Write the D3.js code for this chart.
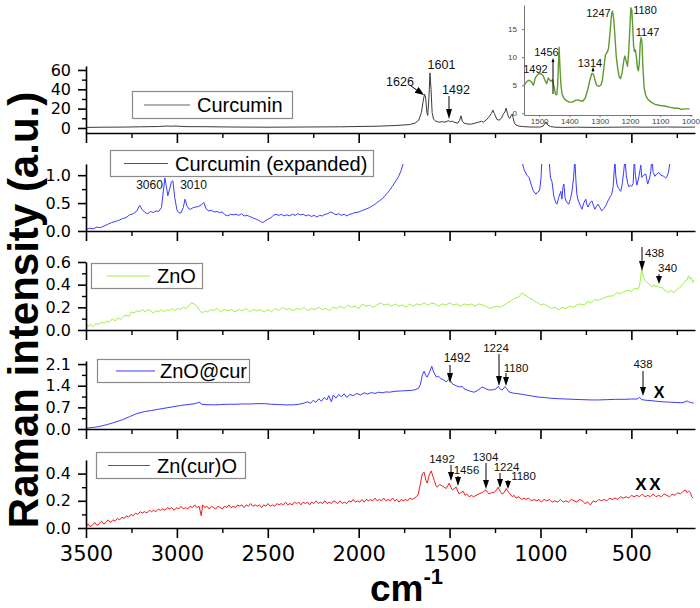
<!DOCTYPE html>
<html><head><meta charset="utf-8">
<script src="https://cdn.jsdelivr.net/npm/d3@7"></script>
<style>body{margin:0;background:#fff}svg{display:block}</style>
</head><body>
<svg id="c" width="700" height="608"></svg>
<script>
// ---------------- DATA ----------------
const xTickValues = [3500,3000,2500,2000,1500,1000,500];
const xMinorValues = [3250,2750,2250,1750,1250,750,250];
const seriesNames = ["Curcumin","Curcumin (expanded)","ZnO","ZnO@cur","Zn(cur)O"];

const curcumin = [[3500,0.6],[3400,0.8],[3300,0.9],[3200,1.2],[3100,1.5],[3060,2.0],[3030,1.8],[3010,2.0],[2950,1.4],[2850,1.3],[2700,1.0],[2500,0.8],[2300,1.0],[2100,1.2],[1900,1.8],[1800,2.5],[1720,3.5],[1690,5],[1670,8],[1655,16],[1645,28],[1638,35],[1632,32],[1625,16],[1620,13],[1614,30],[1608,57],[1602,40],[1596,16],[1588,9],[1575,7],[1560,6],[1540,6.5],[1525,6],[1507,7.5],[1495,6.5],[1485,7],[1470,5.5],[1455,5],[1445,8],[1437,12.5],[1430,7],[1420,5],[1400,4],[1380,4],[1360,5],[1340,6],[1325,7],[1315,6],[1300,8],[1285,11],[1270,15],[1262,18.5],[1254,15],[1240,9],[1228,8],[1215,10],[1205,14],[1195,17],[1189,20.5],[1182,15],[1175,11],[1168,10],[1160,13.5],[1155,14.5],[1150,10],[1143,5],[1135,3],[1120,2],[1100,1.5],[1060,1],[1000,1],[985,2],[975,5],[968,6],[960,3],[945,1.5],[920,0.8],[880,0.6],[800,0.8],[700,0.6],[600,0.8],[500,1.0],[420,0.8],[300,1.0],[200,0.8],[150,1.0]];

const curcuminExpandedA = [[3500,.03],[3480,.05],[3460,.04],[3440,.07],[3420,.06],[3400,.09],[3380,.12],[3360,.15],[3340,.17],[3320,.19],[3300,.22],[3280,.24],[3260,.29],[3240,.31],[3220,.36],[3205,.46],[3190,.38],[3175,.33],[3160,.31],[3145,.35],[3130,.33],[3115,.36],[3100,.35],[3085,.42],[3075,.70],[3066,.95],[3058,.80],[3050,.63],[3040,.75],[3030,.88],[3022,.90],[3012,.60],[3000,.38],[2990,.33],[2978,.32],[2965,.42],[2955,.57],[2945,.45],[2935,.40],[2925,.39],[2910,.42],[2895,.43],[2880,.44],[2865,.47],[2852,.51],[2840,.40],[2825,.36],[2810,.37],[2795,.34],[2780,.35],[2765,.33],[2750,.34],[2735,.29],[2720,.27],[2705,.30],[2690,.29],[2675,.30],[2660,.28],[2645,.31],[2630,.27],[2615,.28],[2600,.26],[2585,.24],[2570,.22],[2555,.20],[2540,.17],[2528,.15],[2515,.18],[2500,.21],[2485,.23],[2470,.28],[2455,.30],[2440,.28],[2425,.30],[2410,.27],[2395,.29],[2380,.27],[2365,.30],[2350,.28],[2335,.31],[2320,.29],[2305,.30],[2290,.27],[2275,.29],[2260,.26],[2245,.28],[2230,.25],[2215,.28],[2200,.27],[2185,.30],[2170,.31],[2155,.34],[2140,.32],[2125,.29],[2110,.31],[2095,.28],[2080,.30],[2065,.27],[2050,.30],[2035,.31],[2020,.33],[2000,.34],[1985,.36],[1970,.38],[1955,.40],[1940,.42],[1925,.45],[1910,.48],[1895,.52],[1886,.54],[1870,.58],[1855,.63],[1840,.69],[1832,.72],[1815,.80],[1795,.90],[1780,.98],[1767,1.08],[1752,1.24]];
const curcuminExpandedB = [[1102,1.25],[1090,1.10],[1075,1.00],[1063,.96],[1050,.82],[1040,.72],[1025,.66],[1015,.70],[1005,.72],[997,.95],[992,1.3],[953,1.3],[945,.95],[937,.89],[926,.61],[915,.50],[909,.48],[900,.60],[888,.71],[882,.57],[876,.80],[871,.84],[865,.60],[860,.54],[852,.50],[844,.48],[835,.58],[827,.70],[818,.95],[811,1.3],[805,.90],[800,.66],[795,.58],[789,.52],[780,.45],[772,.39],[762,.50],[751,.57],[745,.48],[739,.43],[728,.50],[717,.54],[708,.45],[701,.39],[692,.44],[684,.48],[673,.42],[663,.36],[652,.40],[641,.45],[632,.52],[624,.57],[615,.62],[608,.66],[600,.80],[594,1.1],[591,1.3],[586,1.0],[580,.84],[570,.76],[558,.71],[550,.85],[542,1.07],[535,1.3],[528,1.0],[520,.85],[514,.79],[505,.82],[498,.80],[490,.85],[484,1.3],[478,1.0],[470,.82],[460,.95],[452,1.1],[448,1.18],[443,.96],[432,1.0],[421,1.02],[415,.92],[410,.84],[400,.95],[393,1.07],[388,1.3],[380,1.05],[371,.98],[360,1.02],[349,1.05],[338,1.0],[322,.98],[312,.95],[306,.96],[296,1.05],[284,1.3]];

const zno = [[3500,.07],[3490,.03],[3475,.05],[3460,.03],[3445,.06],[3430,.05],[3415,.07],[3400,.06],[3385,.08],[3370,.07],[3355,.10],[3340,.08],[3325,.11],[3310,.09],[3295,.12],[3280,.13],[3265,.12],[3250,.16],[3235,.15],[3220,.17],[3205,.16],[3190,.18],[3175,.16],[3160,.18],[3145,.17],[3130,.15],[3115,.17],[3100,.16],[3085,.18],[3070,.16],[3055,.18],[3040,.17],[3025,.19],[3010,.17],[2995,.19],[2980,.18],[2965,.20],[2950,.19],[2935,.21],[2920,.24],[2905,.23],[2890,.21],[2875,.17],[2860,.15],[2845,.17],[2830,.16],[2815,.18],[2800,.17],[2780,.19],[2760,.16],[2740,.18],[2720,.17],[2700,.18],[2680,.16],[2660,.18],[2640,.17],[2620,.19],[2600,.16],[2580,.18],[2560,.17],[2540,.18],[2520,.16],[2500,.18],[2480,.16],[2460,.19],[2440,.17],[2420,.20],[2400,.18],[2380,.19],[2360,.17],[2340,.19],[2320,.18],[2300,.20],[2280,.17],[2260,.19],[2240,.18],[2220,.20],[2200,.18],[2180,.19],[2160,.17],[2140,.20],[2120,.19],[2100,.21],[2080,.19],[2060,.22],[2040,.20],[2020,.21],[2000,.19],[1980,.23],[1960,.21],[1940,.22],[1920,.20],[1900,.22],[1880,.24],[1860,.22],[1840,.23],[1820,.21],[1800,.23],[1780,.21],[1760,.22],[1740,.20],[1720,.23],[1700,.21],[1680,.23],[1660,.22],[1640,.24],[1620,.22],[1600,.24],[1580,.23],[1560,.21],[1540,.23],[1520,.22],[1500,.24],[1480,.22],[1460,.23],[1440,.21],[1420,.23],[1400,.22],[1380,.23],[1360,.21],[1340,.23],[1320,.22],[1300,.21],[1280,.19],[1260,.20],[1240,.21],[1220,.20],[1200,.22],[1180,.24],[1160,.26],[1140,.28],[1120,.29],[1100,.33],[1090,.31],[1075,.30],[1060,.28],[1045,.27],[1030,.25],[1015,.24],[1000,.22],[980,.23],[960,.21],[940,.19],[920,.20],[900,.18],[880,.20],[860,.19],[840,.21],[820,.20],[800,.22],[780,.23],[760,.22],[740,.25],[720,.24],[700,.27],[680,.26],[660,.28],[640,.29],[620,.30],[600,.30],[580,.33],[560,.32],[540,.34],[520,.35],[500,.34],[480,.37],[465,.36],[455,.39],[443,.54],[435,.47],[425,.44],[415,.42],[405,.41],[395,.39],[385,.38],[375,.40],[365,.38],[355,.39],[345,.37],[335,.38],[325,.36],[315,.35],[305,.34],[295,.33],[285,.35],[275,.34],[265,.33],[255,.35],[245,.36],[235,.37],[225,.39],[215,.41],[205,.43],[195,.44],[185,.48],[178,.45],[170,.46],[162,.42],[155,.44]];

const znoCur = [[3500,.03],[3460,.05],[3420,.09],[3380,.15],[3340,.22],[3300,.30],[3260,.40],[3220,.50],[3180,.56],[3140,.60],[3100,.64],[3060,.68],[3020,.72],[2980,.76],[2940,.79],[2900,.82],[2875,.87],[2865,.80],[2840,.79],[2800,.78],[2760,.79],[2720,.80],[2680,.80],[2640,.81],[2600,.81],[2560,.82],[2520,.82],[2480,.80],[2440,.79],[2400,.78],[2360,.78],[2330,.80],[2300,.84],[2280,.88],[2265,.83],[2250,.93],[2235,.86],[2220,.98],[2205,.90],[2190,1.02],[2175,.94],[2165,1.08],[2150,.88],[2140,1.10],[2125,1.00],[2110,1.12],[2095,1.04],[2080,1.14],[2065,1.02],[2050,1.12],[2030,1.08],[2010,1.15],[1990,1.10],[1970,1.17],[1950,1.13],[1930,1.18],[1910,1.15],[1890,1.19],[1870,1.17],[1850,1.20],[1830,1.19],[1800,1.22],[1770,1.23],[1740,1.24],[1710,1.25],[1690,1.27],[1670,1.32],[1660,1.45],[1650,1.75],[1640,1.87],[1630,1.72],[1623,1.68],[1610,1.85],[1598,2.03],[1588,1.85],[1573,1.68],[1560,1.70],[1546,1.62],[1530,1.58],[1519,1.52],[1505,1.60],[1495,1.55],[1485,1.46],[1465,1.40],[1447,1.36],[1431,1.38],[1420,1.30],[1404,1.26],[1385,1.22],[1365,1.19],[1345,1.25],[1321,1.36],[1300,1.30],[1283,1.26],[1260,1.27],[1244,1.30],[1233,1.38],[1220,1.28],[1211,1.26],[1195,1.37],[1185,1.30],[1173,1.20],[1150,1.16],[1134,1.15],[1100,1.12],[1080,1.10],[1040,1.06],[1008,1.03],[980,1.02],[953,1.0],[900,.98],[860,.97],[820,.96],[772,.95],[720,.94],[679,.94],[630,.95],[586,.96],[540,.96],[498,.97],[470,.97],[455,1.02],[443,.95],[420,.93],[390,.92],[366,.90],[330,.88],[295,.87],[260,.86],[223,.85],[205,.88],[196,.91],[185,.88],[170,.85],[157,.84]];

const znCurO = [[3500,.01],[3490,.03],[3478,.01],[3465,.02],[3452,.04],[3440,.02],[3428,.03],[3415,.05],[3402,.03],[3390,.04],[3378,.06],[3365,.04],[3352,.06],[3340,.05],[3328,.07],[3315,.06],[3302,.08],[3290,.07],[3278,.09],[3265,.08],[3252,.10],[3240,.09],[3228,.11],[3215,.10],[3202,.12],[3190,.11],[3178,.12],[3165,.11],[3152,.13],[3140,.12],[3128,.13],[3115,.12],[3102,.14],[3090,.13],[3078,.14],[3065,.13],[3052,.15],[3040,.14],[3028,.15],[3015,.13],[3002,.15],[2990,.14],[2978,.16],[2965,.14],[2952,.15],[2940,.14],[2928,.16],[2915,.15],[2902,.17],[2890,.15],[2878,.16],[2866,.09],[2858,.17],[2846,.15],[2834,.16],[2822,.14],[2810,.16],[2798,.15],[2786,.14],[2774,.16],[2762,.15],[2750,.14],[2738,.16],[2726,.15],[2714,.17],[2702,.15],[2690,.16],[2678,.15],[2666,.17],[2654,.16],[2642,.17],[2630,.15],[2618,.17],[2606,.16],[2594,.18],[2582,.16],[2570,.17],[2558,.16],[2546,.17],[2534,.15],[2522,.17],[2510,.16],[2498,.18],[2486,.16],[2474,.17],[2462,.16],[2450,.18],[2438,.17],[2426,.18],[2414,.17],[2402,.19],[2390,.17],[2378,.18],[2366,.17],[2354,.19],[2342,.18],[2330,.19],[2318,.17],[2306,.19],[2294,.18],[2282,.19],[2270,.17],[2258,.19],[2246,.18],[2234,.20],[2222,.18],[2210,.19],[2198,.18],[2186,.20],[2174,.18],[2162,.19],[2150,.18],[2138,.20],[2126,.19],[2114,.18],[2102,.20],[2090,.18],[2078,.19],[2066,.18],[2054,.20],[2042,.19],[2030,.21],[2018,.19],[2006,.20],[1994,.19],[1982,.21],[1970,.19],[1958,.21],[1946,.20],[1934,.21],[1922,.20],[1910,.22],[1898,.20],[1886,.21],[1874,.20],[1862,.22],[1850,.20],[1838,.21],[1826,.20],[1814,.22],[1802,.20],[1790,.21],[1778,.19],[1766,.21],[1754,.20],[1742,.21],[1730,.20],[1718,.22],[1706,.21],[1694,.22],[1682,.23],[1672,.25],[1660,.33],[1650,.40],[1640,.41],[1630,.35],[1623,.33],[1612,.39],[1601,.42],[1592,.38],[1584,.35],[1575,.31],[1568,.30],[1555,.32],[1541,.31],[1530,.30],[1519,.29],[1510,.31],[1502,.33],[1493,.30],[1485,.28],[1475,.29],[1463,.30],[1455,.27],[1447,.25],[1438,.26],[1425,.27],[1415,.24],[1405,.25],[1393,.23],[1380,.24],[1368,.23],[1354,.24],[1340,.25],[1321,.26],[1310,.27],[1300,.28],[1290,.26],[1283,.25],[1270,.26],[1255,.26],[1242,.28],[1233,.30],[1222,.27],[1211,.25],[1200,.26],[1189,.29],[1180,.27],[1167,.25],[1155,.23],[1145,.24],[1134,.22],[1120,.23],[1105,.21],[1090,.22],[1080,.21],[1065,.22],[1050,.20],[1035,.21],[1020,.20],[1008,.21],[995,.19],[980,.21],[965,.20],[950,.21],[935,.19],[920,.20],[905,.19],[890,.21],[875,.19],[860,.20],[845,.19],[830,.21],[815,.20],[800,.19],[785,.21],[770,.20],[755,.18],[740,.19],[725,.17],[710,.20],[695,.19],[680,.21],[665,.20],[650,.21],[635,.20],[620,.22],[605,.21],[590,.22],[575,.21],[560,.23],[545,.22],[530,.23],[515,.22],[500,.24],[485,.23],[470,.24],[455,.23],[440,.25],[425,.23],[410,.24],[395,.23],[380,.25],[365,.23],[350,.24],[335,.23],[320,.25],[305,.24],[290,.23],[275,.25],[260,.24],[245,.26],[230,.25],[215,.27],[202,.28],[195,.26],[185,.27],[175,.26],[168,.23],[160,.22]];

const insetData = [[1550,5.0],[1540,5.7],[1533,5.9],[1525,5.6],[1519,5.0],[1512,6.4],[1503,7.0],[1495,7.1],[1487,6.7],[1480,5.8],[1475,5.3],[1470,6.3],[1466,6.0],[1461,5.7],[1456,6.0],[1451,4.8],[1446,3.4],[1442,3.3],[1439,4.8],[1436,9],[1434,11.8],[1431,8],[1428,5],[1424,3.4],[1418,2.7],[1411,2.3],[1400,2.0],[1390,2.0],[1380,2.3],[1372,2.4],[1363,2.2],[1355,2.2],[1347,2.8],[1340,4.1],[1333,5.8],[1326,7.1],[1320,6.9],[1315,5.8],[1310,5.0],[1303,4.8],[1296,5.0],[1291,5.9],[1286,8.2],[1281,10.4],[1275,10.9],[1271,11.5],[1266,14.3],[1261,17.5],[1258,18.2],[1254,17],[1250,14.1],[1245,10],[1240,7.8],[1235,6.4],[1231,6.2],[1226,7.2],[1220,9.5],[1217,10.2],[1212,9.2],[1208,8.4],[1204,11],[1200,15.5],[1197,18.8],[1194,18.5],[1191,15.5],[1188,12],[1185,11],[1182,11.3],[1179,10.2],[1175,8],[1172,7.6],[1169,9],[1166,12.5],[1163,13.5],[1160,12.5],[1157,8],[1153,4.5],[1148,3.2],[1141,2.5],[1130,2.0],[1117,1.6],[1100,1.4],[1085,1.3],[1070,1.1],[1052,0.9],[1040,0.9],[1030,0.7],[1020,0.8],[1003,0.8]];
const insetXTicks = [1500,1400,1300,1200,1100,1000];
const insetYTicks = [0,5,10,15];

// ---------------- DRAW ----------------
const svg = d3.select('#c');
const FONT = '"Liberation Sans", Arial, Helvetica, sans-serif';
const TFONT = '"DejaVu Sans", sans-serif';
const X0 = 86, X1 = 695;
const x = d3.scaleLinear().domain([3500,150]).range([X0,X1]);

const panels = [
  {series:[curcumin], color:'#3a3a3a', top:66, bottom:133, domain:[-5.2,64.1], ticks:[0,20,40,60], minor:[10,30,50], fmt:d3.format('d'),
   legend:{x:132,y:91,w:160,h:27,l1:144,l2:190,tx:197}, name:seriesNames[0], lw:1},
  {series:[curcuminExpandedA, curcuminExpandedB], color:'#3b3bff', top:164, bottom:231, domain:[0,1.2], ticks:[0,0.5,1.0], minor:[0.25,0.75], fmt:d3.format('.1f'),
   legend:{x:110,y:150,w:263,h:26,l1:124,l2:168,tx:175}, name:seriesNames[1], lw:1},
  {series:[zno], color:'#9def45', top:262, bottom:330, domain:[0,0.6], ticks:[0,0.2,0.4,0.6], minor:[0.1,0.3,0.5], fmt:d3.format('.1f'),
   legend:{x:91,y:263,w:111,h:25,l1:107,l2:150,tx:157}, name:seriesNames[2], lw:1},
  {series:[znoCur], color:'#3b3bff', top:361, bottom:429, domain:[0,2.2], ticks:[0,0.7,1.4,2.1], minor:[0.35,1.05,1.75], fmt:d3.format('.1f'),
   legend:{x:97,y:359,w:152,h:23,l1:116,l2:155,tx:160}, name:seriesNames[3], lw:1},
  {series:[znCurO], color:'#ee1c1c', top:460, bottom:528, domain:[0,0.5], ticks:[0,0.2,0.4], minor:[0.1,0.3], fmt:d3.format('.1f'),
   legend:{x:96,y:452,w:149,h:26,l1:108,l2:150,tx:157}, name:seriesNames[4], lw:1}
];

panels.forEach((p,i)=>{
  const y = d3.scaleLinear().domain(p.domain).range([p.bottom,p.top]);
  const g = svg.append('g');
  const cid = 'clip'+i;
  svg.append('clipPath').attr('id',cid).append('rect')
    .attr('x',X0).attr('y',p.top).attr('width',X1-X0).attr('height',p.bottom-p.top);
  const line = d3.line().x(d=>x(d[0])).y(d=>y(d[1]));
  p.series.forEach(s=>{
    g.append('path').datum(s).attr('d',line).attr('fill','none')
      .attr('stroke',p.color).attr('stroke-width',p.lw).attr('stroke-linejoin','round')
      .attr('clip-path',`url(#${cid})`);
  });
  // x axis
  const xa = g.append('g').attr('transform',`translate(0,${p.bottom})`)
    .call(d3.axisBottom(x).tickValues(xTickValues).tickSize(10).tickSizeOuter(0).tickFormat(i===4?d3.format('d'):''));
  xa.select('.domain').attr('stroke-width',1.6);
  xa.selectAll('.tick line').attr('stroke-width',1.6);
  xa.selectAll('text').attr('font-family',TFONT).attr('font-size',21).attr('fill','#000').attr('dy',0).attr('y',33);
  const xm = g.append('g').attr('transform',`translate(0,${p.bottom})`)
    .call(d3.axisBottom(x).tickValues(xMinorValues).tickSize(5).tickFormat(''));
  xm.select('.domain').remove();
  xm.selectAll('.tick line').attr('stroke-width',1.4);
  // y axis
  const ya = g.append('g').attr('transform',`translate(${X0},0)`)
    .call(d3.axisLeft(y).tickValues(p.ticks).tickSize(8).tickPadding(7).tickSizeOuter(0).tickFormat(p.fmt));
  ya.select('.domain').attr('stroke-width',1.6);
  ya.selectAll('.tick line').attr('stroke-width',1.6);
  ya.selectAll('text').attr('font-family',TFONT).attr('font-size',16).attr('fill','#000');
  const ym = g.append('g').attr('transform',`translate(${X0},0)`)
    .call(d3.axisLeft(y).tickValues(p.minor).tickSize(4).tickFormat(''));
  ym.select('.domain').remove();
  ym.selectAll('.tick line').attr('stroke-width',1.4);
  // legend
  const L = p.legend;
  g.append('rect').attr('x',L.x+0.5).attr('y',L.y+0.5).attr('width',L.w).attr('height',L.h)
    .attr('fill','#fff').attr('stroke','#8a8a8a').attr('stroke-width',1.2);
  const cy = L.y + L.h/2 + 0.5;
  g.append('line').attr('x1',L.l1).attr('x2',L.l2).attr('y1',cy).attr('y2',cy)
    .attr('stroke', i===0 ? '#666' : p.color).attr('stroke-width',1.2);
  g.append('text').attr('x',L.tx).attr('y',cy+7).attr('font-family',FONT).attr('font-size',20)
    .attr('fill','#000').text(p.name);
});

// ---------------- annotations ----------------
function label(t, xx, yy, size, anchor){
  svg.append('text').attr('x',xx).attr('y',yy).attr('font-family',FONT).attr('font-size',size)
    .attr('text-anchor',anchor||'middle').attr('fill','#111').text(t);
}
function arrow(x1,y1,x2,y2,hl,hw,color,sw){
  color = color||'#000';
  const a = Math.atan2(y2-y1,x2-x1);
  const bx = x2 - hl*Math.cos(a), by = y2 - hl*Math.sin(a);
  const px = -Math.sin(a)*hw/2, py = Math.cos(a)*hw/2;
  if (Math.hypot(bx-x1,by-y1) > 0.5)
    svg.append('line').attr('x1',x1).attr('y1',y1).attr('x2',bx).attr('y2',by).attr('stroke',color).attr('stroke-width',sw||1);
  svg.append('path').attr('d',`M${x2},${y2}L${bx+px},${by+py}L${bx-px},${by-py}Z`).attr('fill',color);
}
// panel 1
label('1626',400,86,12.5); arrow(411,86,424,95,9,7);
label('1601',441.5,69,12.5);
label('1492',456,94,12.5); arrow(449,96,449,119,10,6);
// panel 2
label('3060',149.5,189,12); label('3010',193.5,189,12);
// panel 3
label('438',645,257,11.5,'start'); arrow(642,247,642,271,10,6);
label('340',658,272,11.5,'start'); arrow(659,274,659,284,8,6);
// panel 4
label('1492',457,362,12); arrow(450,365,450,383,10,6);
label('1224',496,352,11.5); arrow(499,354,499,386,10,6);
label('1180',516,372,11.5); arrow(506,373,506,386,9,6);
label('438',643,368,11.5); arrow(643,371,643,396,9,6);
svg.append('text').attr('x',659).attr('y',397.5).attr('text-anchor','middle').attr('font-family',FONT)
  .attr('font-weight','bold').attr('font-size',16).text('X');
// panel 5
label('1492',442,463,11.5); arrow(451,465,451,481,9,6);
label('1456',466.5,474,11.5); arrow(458,476,458,486,9,6);
label('1304',485.5,461,11.5); arrow(486,463,486,489,9,6);
label('1224',506.5,471,11.5); arrow(500,473,500,488,9,6);
label('1180',523.5,480,11.5); arrow(508,480,508,489,8,6);
svg.append('text').attr('x',641).attr('y',490).attr('text-anchor','middle').attr('font-family',FONT)
  .attr('font-weight','bold').attr('font-size',17).text('X');
svg.append('text').attr('x',655).attr('y',490).attr('text-anchor','middle').attr('font-family',FONT)
  .attr('font-weight','bold').attr('font-size',17).text('X');

// ---------------- inset ----------------
const ix = d3.scaleLinear().domain([1550,995]).range([524,692]);
const iy = d3.scaleLinear().domain([-0.3,19.3]).range([115,5]);
const ig = svg.append('g');
ig.append('path').datum(insetData).attr('d',d3.line().x(d=>ix(d[0])).y(d=>iy(d[1])))
  .attr('fill','none').attr('stroke','#5f9a30').attr('stroke-width',1.4).attr('stroke-linejoin','round');
const ixa = ig.append('g').attr('transform','translate(0,115)')
  .call(d3.axisBottom(ix).tickValues(insetXTicks).tickSize(2).tickSizeOuter(0).tickPadding(1).tickFormat(d3.format('d')));
ixa.select('.domain').attr('stroke','#777');
ixa.selectAll('.tick line').attr('stroke','#777');
ixa.selectAll('text').attr('font-family',FONT).attr('font-size',8).attr('fill','#444');
const iya = ig.append('g').attr('transform','translate(524,0)')
  .call(d3.axisLeft(iy).tickValues(insetYTicks).tickSize(2).tickSizeOuter(0).tickPadding(5).tickFormat(d3.format('d')));
iya.select('.domain').attr('stroke','#777');
iya.selectAll('.tick line').attr('stroke','#777');
iya.selectAll('text').attr('font-family',FONT).attr('font-size',8).attr('fill','#444');
label('1247',598.5,17,11); label('1180',645,13.5,11); label('1147',647.5,36,11);
label('1456',546.5,56,11); label('1492',535.5,73,11); label('1314',590,67,11);
arrow(553,94,553,58,4,3);
arrow(593,72,593,67,4,3);

// ---------------- axis titles ----------------
svg.append('text').attr('transform','translate(38,310) rotate(-90)').attr('text-anchor','middle')
  .attr('font-family',FONT).attr('font-weight','bold').attr('font-size',42).attr('fill','#000')
  .text('Raman intensity (a.u.)');
const xt = svg.append('text').attr('x',370).attr('y',601).attr('font-family',FONT).attr('font-weight','bold').attr('fill','#000');
xt.append('tspan').attr('font-size',37).text('cm');
xt.append('tspan').attr('font-size',22).attr('dy',-17).text('-1');
</script>
</body></html>
